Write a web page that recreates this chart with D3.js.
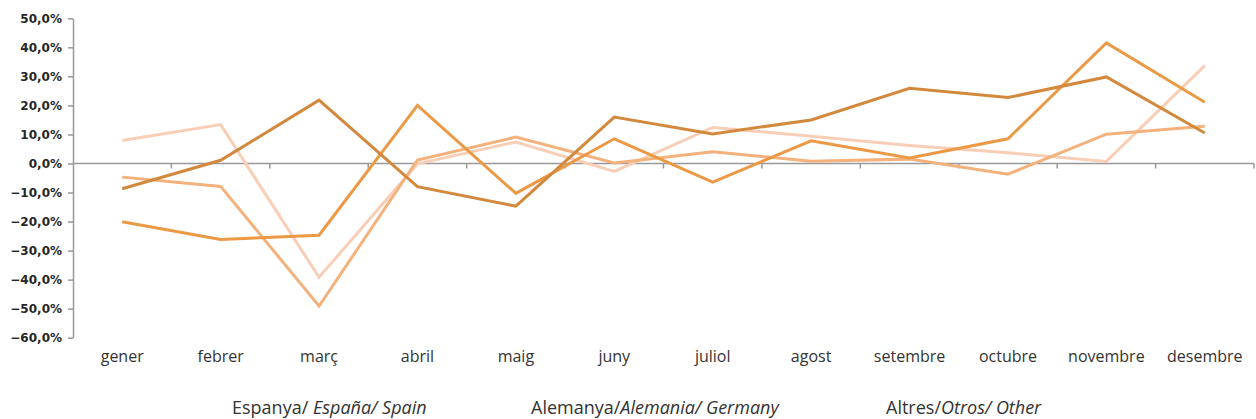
<!doctype html>
<html lang=ca>
<head>
<meta charset=utf-8>
<title>Variació mensual</title>
<script src="https://d3js.org/d3.v7.min.js"></script>
<style>
  body { margin: 0; background: #fff; }
  .ylab { font-family: "DejaVu Sans", sans-serif; font-size: 12px; font-weight: bold; fill: #262626; }
  .xlab { font-family: "Open Sans", sans-serif; font-size: 16px; fill: #333; }
  .legend { font-family: "Open Sans", sans-serif; font-size: 18px; fill: #333; }
</style>
</head>
<body>
<div id="chart"></div>
<script>
var months = ["gener","febrer","març","abril","maig","juny","juliol","agost","setembre","octubre","novembre","desembre"];

// variació interanual (%) de cada sèrie
var serieA = [-8.7, 1.1, 21.8, -8.0, -14.7, 16.0, 10.2, 15.0, 25.9, 22.7, 29.8, 10.5];
var serieB = [-20.1, -26.2, -24.7, 20.0, -10.3, 8.5, -6.4, 7.8, 1.9, 8.5, 41.5, 21.1];
var serieC = [-4.7, -7.9, -49.1, 1.2, 9.1, 0.2, 4.0, 0.8, 1.5, -3.7, 10.1, 12.8];
var serieD = [7.9, 13.4, -39.2, -0.1, 7.4, -2.7, 12.4, 9.4, 6.2, 3.7, 0.7, 33.7];

var yTicks = [50, 40, 30, 20, 10, 0, -10, -20, -30, -40, -50, -60];

// legend: [normal part, italic part]
var legendItems = [
  ["Espanya/ ", "España/ Spain"],
  ["Alemanya/", "Alemania/ Germany"],
  ["Altres/", "Otros/ Other"]
];

var series = [
  {values: serieD, color: "#f9ceb6"},
  {values: serieC, color: "#f4b17c"},
  {values: serieB, color: "#eb9945"},
  {values: serieA, color: "#d3893d"}
];

var W = 1256, H = 419;
var svg = d3.select("#chart").append("svg").attr("width", W).attr("height", H);

var x = d3.scaleBand().domain(months).range([73, 1254]).padding(0);
var y = d3.scaleLinear().domain([-60, 50]).range([337.7, 18.3]);

// y axis
var yAxis = svg.append("g").attr("transform", "translate(73,0)")
  .call(d3.axisLeft(y).tickValues(yTicks).tickSize(5).tickSizeOuter(0)
    .tickFormat(function(d){ return d3.format(".1f")(d).replace(".", ",") + "%"; }));
yAxis.select(".domain").attr("stroke", "#999").attr("stroke-width", 1.5);
yAxis.selectAll(".tick line").attr("stroke", "#999").attr("stroke-width", 1.5);
yAxis.selectAll(".tick text").attr("class", "ylab").attr("x", -11).attr("dy", "0.35em");

// x axis at zero
var xg = svg.append("g").attr("transform", "translate(0," + y(0) + ")");
xg.append("line").attr("x1", 73).attr("x2", 1254).attr("stroke", "#999").attr("stroke-width", 1.5);
xg.selectAll("line.tk").data(months).enter().append("line")
  .attr("class", "tk")
  .attr("x1", function(d){ return x(d) + x.bandwidth(); })
  .attr("x2", function(d){ return x(d) + x.bandwidth(); })
  .attr("y1", 0).attr("y2", 5)
  .attr("stroke", "#999").attr("stroke-width", 1.5);

// month labels
svg.selectAll("text.xlab").data(months).enter().append("text")
  .attr("class", "xlab")
  .attr("x", function(d){ return x(d) + x.bandwidth() / 2; })
  .attr("y", 362)
  .attr("text-anchor", "middle")
  .text(function(d){ return d; });

// lines
var line = d3.line()
  .x(function(d, i){ return x(months[i]) + x.bandwidth() / 2; })
  .y(function(d){ return y(d); });

svg.selectAll("path.serie").data(series).enter().append("path")
  .attr("class", "serie")
  .attr("d", function(d){ return line(d.values); })
  .attr("fill", "none")
  .attr("stroke", function(d){ return d.color; })
  .attr("stroke-width", 3)
  .attr("stroke-linejoin", "miter");

// legend (text only)
var legendX = [232, 531, 886];
var lg = svg.selectAll("text.legend").data(legendItems).enter().append("text")
  .attr("class", "legend")
  .attr("x", function(d, i){ return legendX[i]; })
  .attr("y", 414);
lg.append("tspan").text(function(d){ return d[0]; });
lg.append("tspan").attr("font-style", "italic").text(function(d){ return d[1]; });
</script>
</body>
</html>
